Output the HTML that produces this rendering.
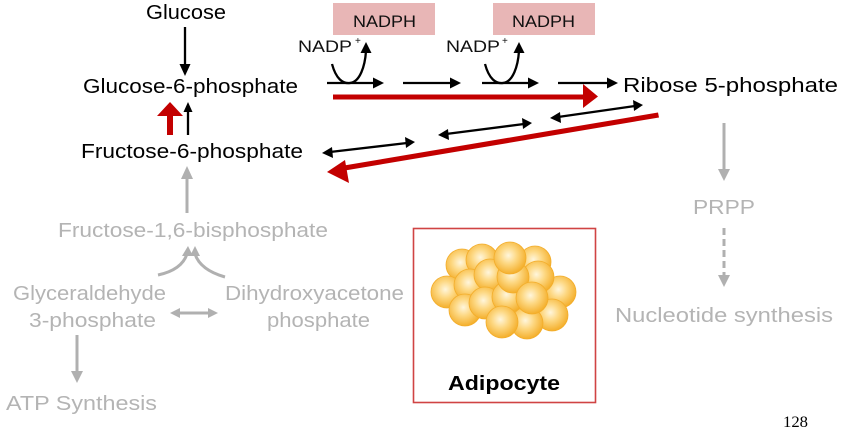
<!DOCTYPE html>
<html><head><meta charset="utf-8"><style>
html,body{margin:0;padding:0;background:#fff;}
svg{display:block;}
text{font-family:"Liberation Sans",Arial,sans-serif;}
</style></head><body>
<svg width="843" height="435" viewBox="0 0 843 435" xmlns="http://www.w3.org/2000/svg">
<defs>
<radialGradient id="cell" cx="45%" cy="42%" r="58%">
<stop offset="0" stop-color="#fff6dc"/>
<stop offset="0.45" stop-color="#fdd883"/>
<stop offset="1" stop-color="#f4af2c"/>
</radialGradient>
</defs>
<rect width="843" height="435" fill="#fff"/>

<!-- NADPH boxes -->
<rect x="333" y="3" width="102" height="32" fill="#e8b6b6"/>
<rect x="493" y="3" width="102" height="32" fill="#e8b6b6"/>
<text x="353" y="27" font-size="17" textLength="63" lengthAdjust="spacingAndGlyphs" fill="#111">NADPH</text>
<text x="512" y="27" font-size="17" textLength="63" lengthAdjust="spacingAndGlyphs" fill="#111">NADPH</text>
<text x="298" y="52" font-size="17" textLength="54" lengthAdjust="spacingAndGlyphs" fill="#111">NADP</text>
<text x="355" y="44" font-size="10" fill="#111">+</text>
<text x="446" y="52" font-size="17" textLength="54" lengthAdjust="spacingAndGlyphs" fill="#111">NADP</text>
<text x="502" y="44" font-size="10" fill="#111">+</text>

<!-- black texts -->
<text x="146" y="19" font-size="20" textLength="80" lengthAdjust="spacingAndGlyphs" fill="#000">Glucose</text>
<text x="83" y="93" font-size="20" textLength="215" lengthAdjust="spacingAndGlyphs" fill="#000">Glucose-6-phosphate</text>
<text x="81" y="158" font-size="20" textLength="222" lengthAdjust="spacingAndGlyphs" fill="#000">Fructose-6-phosphate</text>
<text x="623" y="92" font-size="20" textLength="215" lengthAdjust="spacingAndGlyphs" fill="#000">Ribose 5-phosphate</text>

<!-- gray texts -->
<g fill="#b4b4b4" font-size="20">
<text x="58" y="237" textLength="270" lengthAdjust="spacingAndGlyphs">Fructose-1,6-bisphosphate</text>
<text x="13" y="300" textLength="153" lengthAdjust="spacingAndGlyphs">Glyceraldehyde</text>
<text x="29" y="327" textLength="127" lengthAdjust="spacingAndGlyphs">3-phosphate</text>
<text x="225" y="300" textLength="179" lengthAdjust="spacingAndGlyphs">Dihydroxyacetone</text>
<text x="267" y="327" textLength="103" lengthAdjust="spacingAndGlyphs">phosphate</text>
<text x="6" y="410" textLength="151" lengthAdjust="spacingAndGlyphs">ATP Synthesis</text>
<text x="693" y="214" textLength="62" lengthAdjust="spacingAndGlyphs">PRPP</text>
<text x="615" y="322" textLength="218" lengthAdjust="spacingAndGlyphs">Nucleotide synthesis</text>
</g>

<!-- black arrows -->
<g stroke="#000" stroke-width="2.3" fill="none">
<line x1="185" y1="27" x2="185" y2="66"/>
<line x1="188" y1="135" x2="188" y2="111"/>
<line x1="327" y1="83" x2="374" y2="83"/>
<line x1="403" y1="83" x2="451" y2="83"/>
<line x1="482" y1="83" x2="529" y2="83"/>
<line x1="558" y1="83" x2="608" y2="83"/>
<path d="M332,64 C336,79 343,84 350,83 C360,82 365,66 366,51"/>
<path d="M485,64 C489,79 496,84 503,83 C513,82 518,66 519,51"/>
<line x1="330" y1="152" x2="407" y2="143"/>
<line x1="446" y1="134" x2="524" y2="124"/>
<line x1="558" y1="117" x2="635" y2="106"/>
</g>
<g fill="#000">
<polygon points="179.5,64 190.5,64 185,76"/>
<polygon points="183.5,112 192.5,112 188,102"/>
<polygon points="373,77.5 373,88.5 384,83"/>
<polygon points="450,77.5 450,88.5 461,83"/>
<polygon points="528,77.5 528,88.5 539,83"/>
<polygon points="607,77.5 607,88.5 618,83"/>
<polygon points="360.5,53 371.5,53 366,42"/>
<polygon points="513.5,53 524.5,53 519,42"/>
<polygon points="322,153 332,147 333,158"/>
<polygon points="415,142 405,137 406,148"/>
<polygon points="438,135 448,129 449,140"/>
<polygon points="532,123 522,118 523,129"/>
<polygon points="550,118 560,112 561,123"/>
<polygon points="643,105 633,100 634,111"/>
</g>

<!-- red arrows -->
<g fill="#c30000">
<rect x="333" y="94.5" width="252" height="5"/>
<polygon points="583,84 598,96.5 583,108"/>
<polygon points="167,135 173,135 173,116 183,116 170,102 157,116 167,116"/>
<polygon points="658,112.5 659,117.5 342,171 341,166"/>
<polygon points="327,172 345,160 349,183"/>
</g>

<!-- gray arrows -->
<g stroke="#b0b0b0" stroke-width="3" fill="none">
<line x1="187" y1="213" x2="187" y2="177"/>
<path d="M158,275 C172,272 183,266 187,254"/>
<path d="M225,277 C211,273 199,266 195,254"/>
<line x1="178" y1="313" x2="210" y2="313"/>
<line x1="77" y1="335" x2="77" y2="372"/>
<line x1="724" y1="123" x2="724" y2="170"/>
<line x1="724" y1="228" x2="724" y2="276" stroke-dasharray="7,4"/>
</g>
<g fill="#b0b0b0">
<polygon points="181,179 193,179 187,166"/>
<polygon points="182,256 193,256 188,246"/>
<polygon points="190,256 200,256 195,246"/>
<polygon points="170,313 180,308 180,318"/>
<polygon points="218,313 208,308 208,318"/>
<polygon points="71,371 83,371 77,383"/>
<polygon points="718,169 730,169 724,181"/>
<polygon points="718,275 730,275 724,287"/>
</g>

<!-- adipocyte box -->
<rect x="413.5" y="228.5" width="182" height="174" fill="none" stroke="#d04444" stroke-width="1.6"/>
<g fill="url(#cell)" stroke="#f3ad2a" stroke-width="0.8">
<circle cx="462" cy="265" r="16"/>
<circle cx="482" cy="260" r="16"/>
<circle cx="535" cy="262" r="16"/>
<circle cx="447" cy="292" r="16"/>
<circle cx="470" cy="285" r="16"/>
<circle cx="490" cy="275" r="16"/>
<circle cx="560" cy="292" r="16"/>
<circle cx="538" cy="277" r="16"/>
<circle cx="465" cy="310" r="16"/>
<circle cx="552" cy="315" r="16"/>
<circle cx="485" cy="303" r="16"/>
<circle cx="527" cy="323" r="16"/>
<circle cx="508" cy="297" r="16"/>
<circle cx="513" cy="277" r="16"/>
<circle cx="510" cy="258" r="16"/>
<circle cx="532" cy="298" r="16"/>
<circle cx="502" cy="322" r="16"/>
</g>
<text x="448" y="390" font-size="20" font-weight="bold" textLength="112" lengthAdjust="spacingAndGlyphs" fill="#000">Adipocyte</text>

<text x="783" y="427" font-size="16" textLength="25" lengthAdjust="spacingAndGlyphs" fill="#000" style="font-family:'Liberation Serif',serif">128</text>
</svg>
</body></html>
